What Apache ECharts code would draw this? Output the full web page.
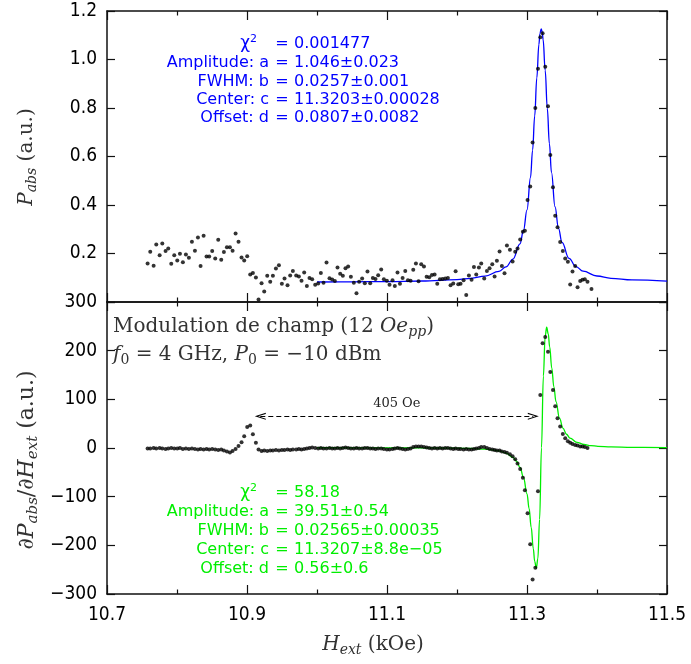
<!DOCTYPE html>
<html><head><meta charset="utf-8">
<script src="https://cdn.jsdelivr.net/npm/echarts@6/dist/echarts.min.js"></script>
<style>html,body{margin:0;padding:0;background:#fff}#c{width:691px;height:664px}</style>
</head><body><div id="c"></div>
<script>
// ---- data ----
const hExt = [
10.7580,10.7618,10.7666,10.7704,10.7752,10.7790,10.7837,10.7875,10.7918,10.7961,
10.8004,10.8042,10.8084,10.8127,10.8170,10.8213,10.8256,10.8299,10.8337,10.8380,
10.8422,10.8460,10.8503,10.8546,10.8589,10.8632,10.8670,10.8713,10.8756,10.8794,
10.8837,10.8879,10.8922,10.8960,10.9003,10.9046,10.9084,10.9127,10.9165,10.9208,
10.9246,10.9289,10.9332,10.9370,10.9413,10.9456,10.9498,10.9536,10.9579,10.9617,
10.9655,10.9703,10.9741,10.9779,10.9817,10.9855,10.9893,10.9931,10.9974,11.0017,
11.0055,11.0093,11.0136,11.0179,11.0217,11.0255,11.0293,11.0331,11.0369,11.0407,
11.0445,11.0484,11.0526,11.0564,11.0602,11.0645,11.0683,11.0721,11.0760,11.0798,
11.0836,11.0874,11.0917,11.0955,11.0998,11.1036,11.1079,11.1112,11.1150,
11.1185,11.1223,11.1261,11.1299,11.1337,11.1375,11.1413,11.1451,11.1489,11.1528,
11.1566,11.1604,11.1642,11.1680,11.1718,11.1756,11.1794,11.1832,11.1870,11.1908,
11.1946,11.1980,11.2018,11.2051,11.2094,11.2132,11.2170,11.2208,11.2242,11.2275,
11.2313,11.2346,11.2389,11.2427,11.2465,11.2504,11.2537,11.2570,11.2608,11.2641,
11.2679,11.2713,11.2756,11.2794,11.2832,11.2865,11.2903,11.2941,11.2970,11.3008,
11.3046,
11.3080,11.3119,11.3157,11.3190,11.3223,11.3261,11.3300,11.3333,11.3371,
11.3403,11.3436,11.3474,11.3512,11.3546,11.3584,11.3617,11.3650,11.3688,11.3722,
11.3760,11.3793,11.3826,11.3864,11.3921];

const pAbs = [
0.159,0.207,0.149,0.237,0.193,0.241,0.210,0.221,0.158,0.193,
0.171,0.199,0.164,0.196,0.182,0.248,0.211,0.266,0.148,0.273,
0.188,0.188,0.210,0.179,0.257,0.174,0.206,0.226,0.226,0.211,
0.282,0.248,0.184,0.171,0.189,0.113,0.120,0.101,0.010,0.077,
0.043,0.108,0.083,0.108,0.138,0.152,0.075,0.097,0.069,0.109,
0.128,0.109,0.105,0.088,0.122,0.066,0.099,0.094,0.071,0.076,
0.120,0.079,0.163,0.098,0.093,0.087,0.142,0.116,0.108,0.139,
0.146,0.104,0.079,0.036,0.083,0.097,0.077,0.126,0.077,0.099,
0.095,0.110,0.134,0.094,0.088,0.071,0.090,0.066,0.122,
0.075,0.099,0.128,0.090,0.088,0.133,0.159,0.086,0.156,0.146,
0.104,0.102,0.111,0.113,0.075,0.094,0.095,0.097,0.099,0.069,
0.076,0.127,0.073,0.075,0.090,0.029,0.109,0.092,0.144,0.113,
0.142,0.159,0.097,0.128,0.139,0.156,0.105,0.170,0.208,0.148,
0.119,0.233,0.215,0.167,0.207,0.221,0.258,0.290,0.294,0.421,
0.476,
0.658,0.800,0.962,1.092,1.108,0.970,0.807,0.606,0.473,
0.356,0.308,0.247,0.210,0.179,0.166,0.072,0.126,0.148,0.061,
0.087,0.092,0.094,0.084,0.054];

const dPdH = [
-1,-1,0,-1,0,-1,-2,-1,0,-1,
-1,0,-2,-1,-2,-1,-2,-3,-2,-3,
-2,-3,-2,-3,-4,-3,-5,-7,-9,-6,
-2,4,12,24,43,46,28,11,-3,-6,
-5,-6,-5,-5,-4,-5,-4,-4,-3,-4,
-3,-3,-2,-3,-2,-1,0,1,0,-1,
0,-1,-1,0,-1,-1,0,-1,0,1,
0,-1,-1,0,-1,-1,0,0,-1,-1,
-2,-1,-1,-2,-3,-3,-2,-1,0,
-1,-2,-3,-2,-1,2,3,3,3,2,
1,0,-1,0,-1,0,-1,0,0,-1,
-2,-1,-2,-2,-3,-2,-3,-3,-2,-1,
0,2,2,0,-2,-3,-4,-5,-5,-7,
-8,-10,-13,-17,-23,-32,-43,-61,-87,-134,
-198,-270,-246,-89,109,215,228,198,156,119,
86,61,44,29,20,14,11,8,6,5,
3,3,2,0];

// fitted curves
const fitTopH = [11.0,11.05,11.1,11.15,11.2,11.22,11.24,11.26,11.27,11.28,11.29,11.295,11.30,11.305,11.308,11.311,11.314,11.317,11.3185,11.3203,11.3218,11.323,11.326,11.329,11.332,11.335,11.34,11.345,11.35,11.36,11.37,11.38,11.40,11.42,11.45,11.5];
const fitTopP = [0.0824,0.0831,0.0843,0.0866,0.0925,0.0976,0.1068,0.1261,0.1448,0.1772,0.2401,0.2952,0.3799,0.5133,0.6265,0.7672,0.9240,1.0619,1.1066,1.1267,1.1126,1.0825,0.9547,0.7979,0.6526,0.5338,0.3929,0.3035,0.2456,0.1799,0.1462,0.1270,0.1072,0.0978,0.0909,0.0860];
const fitBotH = [11.0,11.1,11.15,11.2,11.22,11.24,11.25,11.26,11.27,11.28,11.285,11.29,11.295,11.30,11.303,11.306,11.309,11.311,11.3133,11.3155,11.318,11.3207,11.3234,11.3259,11.3281,11.3304,11.3324,11.3354,11.3384,11.3414,11.3464,11.3514,11.3564,11.3614,11.3714,11.3814,11.3914,11.4014,11.42,11.45,11.5];
const fitBotD = [0.51,0.41,0.24,-0.34,-0.97,-2.36,-3.71,-6.04,-10.36,-19.23,-27.2,-39.8,-60.3,-94.2,-124.3,-162.9,-206.8,-233.0,-247.2,-227.6,-146.6,0.56,147.8,228.7,248.4,234.2,207.9,164.0,125.5,95.4,61.4,40.9,28.3,20.4,11.5,7.2,4.8,3.5,2.15,1.29,0.84];

// texts
const fitNames = ['Amplitude: a','FWHM: b','Center: c','Offset: d'];
const fitTopVals = ['1.046±0.023','0.0257±0.001','11.3203±0.00028','0.0807±0.0082'];
const fitBotVals = ['39.51±0.54','0.02565±0.00035','11.3207±8.8e−05','0.56±0.6'];
const chiTop = '0.001477';
const chiBot = '58.18';
const arrowH = [10.919, 11.309];
const arrowY = 65;
const arrowText = '405 Oe';

// ---- chart ----
const SANS = "'DejaVu Sans Condensed','Liberation Sans Narrow','DejaVu Sans',sans-serif";
const FITSANS = "'DejaVu Sans',sans-serif";
const SERIF = "'DejaVu Serif','Liberation Serif',serif";
const BLUE = '#0000ff', GREEN = '#00ee00', INK = '#111';
const zip = (a, b) => a.map((v, i) => [v, b[i]]);

function xAx(grid, pos, labels) {
  return {
    type: 'value', gridIndex: grid, position: pos, min: 10.7, max: 11.5, interval: 0.2,
    axisLine: { show: true, onZero: false, lineStyle: { color: INK, width: 1.5 } },
    axisTick: { show: true, inside: true, length: 9, lineStyle: { color: INK, width: 1.2 } },
    minorTick: { show: true, splitNumber: 2, length: 4.5, lineStyle: { color: INK, width: 1.2 } },
    splitLine: { show: false }, minorSplitLine: { show: false },
    axisLabel: { show: labels, color: '#000', fontFamily: SANS, fontSize: 19, margin: 12,
      formatter: v => v.toFixed(1) }
  };
}
function yAx(grid, pos, min, max, itv, labels, fmt) {
  return {
    type: 'value', gridIndex: grid, position: pos, min: min, max: max, interval: itv,
    axisLine: { show: true, onZero: false, lineStyle: { color: INK, width: 1.5 } },
    axisTick: { show: true, inside: true, length: 8, lineStyle: { color: INK, width: 1.2 } },
    splitLine: { show: false },
    axisLabel: { show: labels, color: '#000', fontFamily: SANS, fontSize: 19, margin: 10,
      showMinLabel: true, showMaxLabel: true, formatter: fmt }
  };
}

const graphics = [];
function txt(x, y, text, opts) {
  graphics.push(Object.assign({ type: 'text', x: x, y: y, z: 100, silent: true,
    style: Object.assign({ text: text, fill: '#000', fontFamily: SANS, fontSize: 15,
      align: 'left', verticalAlign: 'middle' }, opts.style || {}) },
    opts.rotation !== undefined ? { rotation: opts.rotation } : {}));
}
function fitBlock(ys, color, chi, vals) {
  const sty = { fill: color, fontFamily: FITSANS, fontSize: 16 };
  txt(257, ys[0], '{c|χ}{s|2}', { style: Object.assign({}, sty, { align: 'right',
    rich: { c: { fill: color, fontFamily: FITSANS, fontSize: 17 },
            s: { fill: color, fontFamily: FITSANS, fontSize: 11, padding: [0, 0, 9, 0] } } }) });
  txt(282, ys[0], '=', { style: Object.assign({}, sty, { align: 'center' }) });
  txt(294, ys[0], chi, { style: sty });
  for (let i = 0; i < fitNames.length; i++) {
    txt(269, ys[i + 1], fitNames[i], { style: Object.assign({}, sty, { align: 'right' }) });
    txt(282, ys[i + 1], '=', { style: Object.assign({}, sty, { align: 'center' }) });
    txt(294, ys[i + 1], vals[i], { style: sty });
  }
}
fitBlock([43.5, 63.3, 81.5, 99.6, 118], BLUE, chiTop, fitTopVals);
fitBlock([493, 512.3, 531, 550, 569.3], GREEN, chiBot, fitBotVals);

const serifRich = (size) => ({
  r: { fontFamily: SERIF, fontSize: size, fill: '#333' },
  i: { fontFamily: SERIF, fontSize: size, fontStyle: 'italic', fill: '#333' },
  sub: { fontFamily: SERIF, fontSize: Math.round(size * 0.68), fontStyle: 'italic', fill: '#333', padding: [Math.round(size * 0.55), 0, 0, 0] },
  sub0: { fontFamily: SERIF, fontSize: Math.round(size * 0.68), fill: '#333', padding: [Math.round(size * 0.55), 0, 0, 0] }
});
txt(113, 327, '{r|Modulation de champ (12 }{i|Oe}{sub|pp}{r|)}', { style: { rich: serifRich(20) } });
txt(113, 355, '{i|f}{sub0|0}{r| = 4 GHz, }{i|P}{sub0|0}{r| = −10 dBm}', { style: { rich: serifRich(20) } });
txt(27, 157, '{i|P}{sub|abs}{r| (a.u.)}', { rotation: Math.PI / 2, style: { align: 'center', rich: serifRich(20) } });
txt(27, 460, '{r|∂}{i|P}{sub|abs}{r|/∂}{i|H}{sub|ext}{r| (a.u.)}', { rotation: Math.PI / 2, style: { align: 'center', rich: serifRich(22) } });
txt(373, 645, '{i|H}{sub|ext}{r| (kOe)}', { style: { align: 'center', rich: serifRich(20) } });

const chevron = 'path://M0,20 L10,0 L20,20 L17,20 L10,6 L3,20 Z';

const option = {
  animation: false,
  backgroundColor: '#fff',
  grid: [
    { left: 107, right: 24, top: 11, height: 291, outerBoundsMode: 'none', containLabel: false },
    { left: 107, right: 24, top: 302, height: 292, outerBoundsMode: 'none', containLabel: false }
  ],
  xAxis: [xAx(0, 'bottom', false), xAx(0, 'top', false), xAx(1, 'bottom', true), xAx(1, 'top', false)],
  yAxis: [
    yAx(0, 'left', 0, 1.2, 0.2, true, v => (Math.abs(v) < 1e-9 ? '' : v.toFixed(1))),
    yAx(0, 'right', 0, 1.2, 0.2, false),
    yAx(1, 'left', -300, 300, 100, true, v => (v < 0 ? '−' + Math.abs(v) : String(v))),
    yAx(1, 'right', -300, 300, 100, false)
  ],
  series: [
    { type: 'line', xAxisIndex: 0, yAxisIndex: 0, data: zip(fitTopH, fitTopP), symbol: 'none',
      smooth: 0.4, smoothMonotone: 'x', lineStyle: { color: BLUE, width: 1.3 }, z: 2 },
    { type: 'scatter', xAxisIndex: 0, yAxisIndex: 0, data: zip(hExt, pAbs), symbol: 'circle',
      symbolSize: 4, itemStyle: { color: '#000' }, z: 3 },
    { type: 'line', xAxisIndex: 2, yAxisIndex: 2, data: zip(fitBotH, fitBotD), symbol: 'none',
      smooth: 0.4, smoothMonotone: 'x', lineStyle: { color: GREEN, width: 1.3 }, z: 2 },
    { type: 'scatter', xAxisIndex: 2, yAxisIndex: 2, data: zip(hExt, dPdH), symbol: 'circle',
      symbolSize: 4, itemStyle: { color: '#000' }, z: 3,
      markLine: {
        silent: true, animation: false,
        symbol: [chevron, chevron], symbolSize: [7, 11],
        lineStyle: { color: '#000', width: 1, type: [5, 3] },
        label: { show: true, position: 'middle', formatter: arrowText, fontFamily: SERIF,
          fontSize: 13, color: '#222', distance: 6 },
        emphasis: { disabled: true },
        data: [[{ coord: [arrowH[0], arrowY] }, { coord: [arrowH[1], arrowY] }]]
      } }
  ],
  graphic: graphics
};
const chart = echarts.init(document.getElementById('c'), null, { renderer: 'canvas' });
chart.setOption(option);
</script></body></html>
